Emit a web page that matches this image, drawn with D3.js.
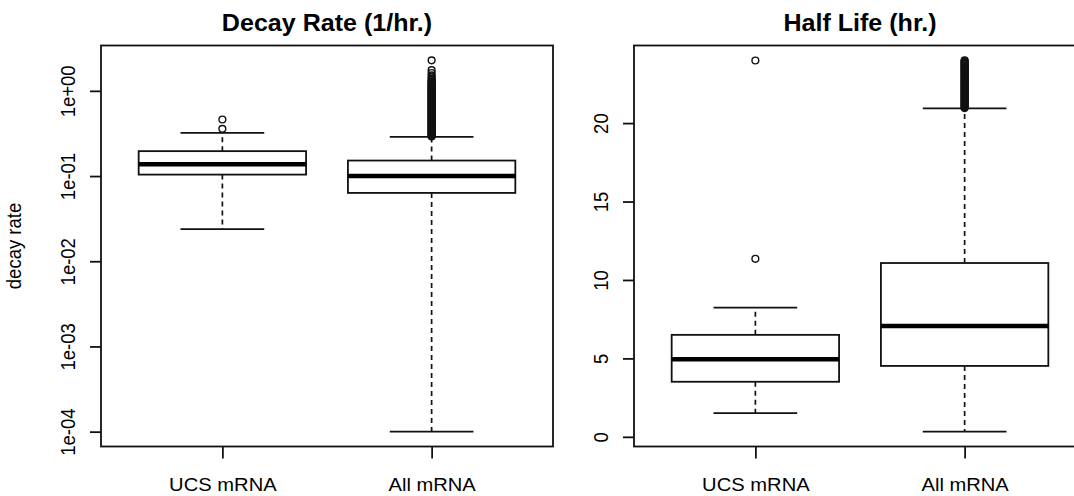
<!DOCTYPE html>
<html>
<head>
<meta charset="utf-8">
<script src="https://cdn.jsdelivr.net/npm/d3@7"></script>
<style>
  body { margin: 0; background: #fff; }
  svg { display: block; font-family: "Liberation Sans", Arial, sans-serif; }
</style>
</head>
<body>
<div id="chart"></div>
<script>
// values
const groups = ["UCS mRNA", "All mRNA"];

// decay rate (1/hr.), log axis
const decayLow  = [0.0238, 0.0001];
const decayQ1   = [0.104, 0.0634];
const decayMed  = [0.138, 0.100];
const decayQ3   = [0.196, 0.152];
const decayHigh = [0.321, 0.288];
const decayOutUCS = [0.358, 0.461];
const decayOutAll = [0.292, 0.298, 0.305, 0.312, 0.318, 0.326, 0.333, 0.341, 0.349, 0.357,
  0.366, 0.374, 0.383, 0.392, 0.401, 0.41, 0.42, 0.43, 0.44, 0.45, 0.461, 0.472, 0.483, 0.494,
  0.506, 0.518, 0.53, 0.542, 0.555, 0.568, 0.581, 0.595, 0.609, 0.623, 0.638, 0.653, 0.668,
  0.684, 0.7, 0.716, 0.733, 0.75, 0.768, 0.786, 0.804, 0.823, 0.842, 0.862, 0.882, 0.903,
  0.924, 0.946, 0.968, 0.991, 1.01, 1.04, 1.06, 1.09, 1.11, 1.14, 1.17, 1.2, 1.23, 1.26, 1.29,
  1.33, 1.38, 1.45, 1.52, 1.62, 1.75, 2.28];
const decayTicks = [1e-4, 1e-3, 1e-2, 1e-1, 1];
const decayTickLabels = ["1e-04", "1e-03", "1e-02", "1e-01", "1e+00"];

// half life (hr.)
const halfLow  = [1.51, 0.33];
const halfQ1   = [3.51, 4.52];
const halfMed  = [4.95, 7.07];
const halfQ3   = [6.50, 11.08];
const halfHigh = [8.24, 20.94];
const halfOutUCS = [11.35, 23.99];
const halfOutAll = [20.96, 21.02, 21.08, 21.14, 21.2, 21.27, 21.33, 21.39, 21.45, 21.52, 21.58,
  21.64, 21.7, 21.77, 21.83, 21.89, 21.95, 22.02, 22.08, 22.14, 22.2, 22.27, 22.33, 22.39,
  22.45, 22.52, 22.58, 22.64, 22.7, 22.77, 22.83, 22.89, 22.95, 23.02, 23.08, 23.14, 23.2,
  23.27, 23.33, 23.39, 23.45, 23.52, 23.58, 23.64, 23.7, 23.77, 23.83, 23.89, 23.95, 24.0];
const halfTicks = [0, 5, 10, 15, 20];

const W = 1074, H = 496;
const plotTop = 45.5, plotBottom = 446.5;
const stretch = 1.09;   // the original picture is a bit wider than tall
const ink = "#111";

const svg = d3.select("#chart").append("svg").attr("width", W).attr("height", H);

// pad a range by 4% each side, like R does
function padded(lo, hi) {
  const p = (hi - lo) * 0.04;
  return [lo - p, hi + p];
}

function panel(left, right, y, stats, outs, title, ticks, tickFmt) {
  const x = d3.scaleLinear().domain(padded(0.5, 2.5)).range([left, right]);
  const g = svg.append("g");
  const half = x(1.4) - x(1);    // box half width
  const cap = x(1.2) - x(1);     // staple half width

  groups.forEach(function (name, i) {
    const c = x(i + 1);
    // dashed whiskers
    [[stats.q3[i], stats.high[i]], [stats.q1[i], stats.low[i]]].forEach(function (w) {
      g.append("line")
        .attr("x1", c).attr("x2", c)
        .attr("y1", y(w[0])).attr("y2", y(w[1]))
        .attr("stroke", ink).attr("stroke-width", 1.7)
        .attr("stroke-dasharray", "5,4");
    });
    // staples
    [stats.high[i], stats.low[i]].forEach(function (v) {
      g.append("line")
        .attr("x1", c - cap).attr("x2", c + cap)
        .attr("y1", y(v)).attr("y2", y(v))
        .attr("stroke", ink).attr("stroke-width", 1.8);
    });
    // box
    g.append("rect")
      .attr("x", c - half).attr("width", 2 * half)
      .attr("y", y(stats.q3[i])).attr("height", y(stats.q1[i]) - y(stats.q3[i]))
      .attr("fill", "white").attr("stroke", ink).attr("stroke-width", 1.8);
    // median
    g.append("line")
      .attr("x1", c - half).attr("x2", c + half)
      .attr("y1", y(stats.med[i])).attr("y2", y(stats.med[i]))
      .attr("stroke", "#000").attr("stroke-width", 4.5);
    // outliers
    g.selectAll(null)
      .data(outs[i])
      .enter()
      .append("circle")
      .attr("cx", c)
      .attr("cy", function (d) { return y(d); })
      .attr("r", 3.4)
      .attr("fill", "none")
      .attr("stroke", ink)
      .attr("stroke-width", 1.4);
  });

  // frame
  g.append("rect")
    .attr("x", left).attr("y", plotTop)
    .attr("width", right - left).attr("height", plotBottom - plotTop)
    .attr("fill", "none").attr("stroke", ink).attr("stroke-width", 1.8);

  // y axis
  const yAxis = g.append("g")
    .attr("transform", "translate(" + left + ",0)")
    .call(d3.axisLeft(y).tickValues(ticks).tickSize(11).tickFormat(tickFmt));
  yAxis.select(".domain").remove();
  yAxis.selectAll("line").attr("stroke", ink).attr("stroke-width", 1.8);
  yAxis.selectAll("text")
    .attr("x", null).attr("dy", null)
    .attr("text-anchor", "middle")
    .attr("transform", "translate(-26,0) scale(" + stretch + ",1) rotate(-90)")
    .attr("fill", "#000")
    .style("font-size", "18.5px");

  // x axis
  const xAxis = g.append("g")
    .attr("transform", "translate(0," + plotBottom + ")")
    .call(d3.axisBottom(x).tickValues([1, 2]).tickSize(12).tickFormat(function (d, i) { return groups[i]; }));
  xAxis.select(".domain").remove();
  xAxis.selectAll("line").attr("stroke", ink).attr("stroke-width", 1.8);
  xAxis.selectAll("text")
    .attr("y", 44.5).attr("dy", null)
    .attr("transform", "scale(" + stretch + ",1)")
    .attr("fill", "#000")
    .style("font-size", "18.5px");

  // title
  svg.append("text")
    .attr("transform", "translate(" + (left + right) / 2 + ",31) scale(" + stretch + ",1)")
    .attr("text-anchor", "middle")
    .attr("font-weight", "bold")
    .style("font-size", "23px")
    .attr("fill", "#000")
    .text(title);
}

// left panel: decay rate on a log axis
const decayAll = [].concat(decayLow, decayHigh, decayOutUCS, decayOutAll);
const logExt = d3.extent(decayAll).map(Math.log10);
const yDecay = d3.scaleLog()
  .domain(padded(logExt[0], logExt[1]).map(function (v) { return Math.pow(10, v); }))
  .range([plotBottom, plotTop]);

panel(101, 553, yDecay,
  { low: decayLow, q1: decayQ1, med: decayMed, q3: decayQ3, high: decayHigh },
  [decayOutUCS, decayOutAll],
  "Decay Rate (1/hr.)", decayTicks,
  function (d, i) { return decayTickLabels[i]; });

svg.append("text")
  .attr("transform", "translate(21," + (plotTop + plotBottom) / 2 + ") scale(" + stretch + ",1) rotate(-90)")
  .attr("text-anchor", "middle")
  .style("font-size", "18.5px")
  .attr("fill", "#000")
  .text("decay rate");

// right panel: half life, linear axis (runs past the right edge like the original)
const halfAll = [].concat(halfLow, halfHigh, halfOutUCS, halfOutAll);
const yHalf = d3.scaleLinear()
  .domain(padded(d3.min(halfAll), d3.max(halfAll)))
  .range([plotBottom, plotTop]);

panel(634, 1086, yHalf,
  { low: halfLow, q1: halfQ1, med: halfMed, q3: halfQ3, high: halfHigh },
  [halfOutUCS, halfOutAll],
  "Half Life (hr.)", halfTicks, d3.format("d"));
</script>
</body>
</html>
